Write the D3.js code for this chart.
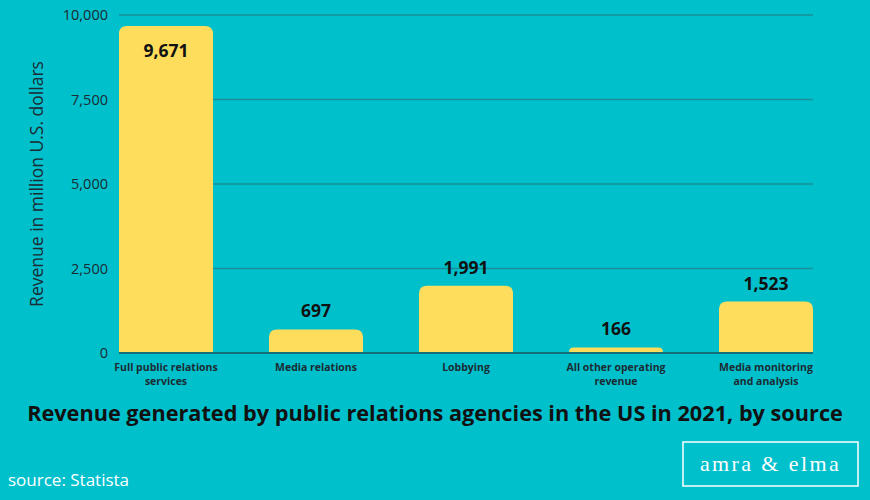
<!DOCTYPE html>
<html>
<head>
<meta charset="utf-8">
<script src="https://cdn.jsdelivr.net/npm/d3@7"></script>
<style>
  body { margin: 0; background: #00c0cc; }
  svg { display: block; }
</style>
</head>
<body>
<div id="chart"></div>
<script>
// Dữ liệu
const categories = [
    ["Full public relations", "services"],
    ["Media relations"],
    ["Lobbying"],
    ["All other operating", "revenue"],
    ["Media monitoring", "and analysis"]
];
const values = [9671, 697, 1991, 166, 1523];
const yTicks = [0, 2500, 5000, 7500, 10000];

const width = 870;
const height = 500;
const margin = { top: 15, right: 57, bottom: 147, left: 119 };

const svg = d3.select("#chart")
    .append("svg")
    .attr("width", width)
    .attr("height", height);

svg.append("rect")
    .attr("width", width)
    .attr("height", height)
    .attr("fill", "#00c0cc");

const x = d3.scaleBand()
    .domain(d3.range(values.length))
    .range([margin.left, width - margin.right])
    .paddingInner(0.3733)
    .paddingOuter(0);

const y = d3.scaleLinear()
    .domain([0, 10000])
    .range([height - margin.bottom, margin.top]);

// Đường lưới
svg.append("g")
    .selectAll("line")
    .data(yTicks)
    .enter()
    .append("line")
    .attr("x1", margin.left)
    .attr("x2", width - margin.right)
    .attr("y1", d => y(d))
    .attr("y2", d => y(d))
    .attr("stroke", d => d === 0 ? "#13707a" : "#1a8f98")
    .attr("stroke-width", d => d === 0 ? 2 : 1.5);

// Nhãn trục Y
const yAxis = svg.append("g")
    .attr("transform", `translate(${margin.left - 11},0)`)
    .call(d3.axisLeft(y).tickValues(yTicks).tickSize(0).tickFormat(d3.format(",")));
yAxis.select(".domain").remove();
yAxis.selectAll("text")
    .attr("x", 0)
    .style("font-family", "'Open Sans', sans-serif")
    .style("font-size", "14.5px")
    .style("fill", "#1c2b33");

svg.append("text")
    .attr("transform", `translate(43,${(y(0) + y(10000)) / 2}) rotate(-90)`)
    .attr("text-anchor", "middle")
    .style("font-family", "'Open Sans', sans-serif")
    .style("font-size", "17.5px")
    .style("fill", "#1c2b33")
    .text("Revenue in million U.S. dollars");

// Cột bo góc trên
const r = 8;
function barPath(x0, y0, w, h) {
    const rr = Math.min(r, h);
    return `M${x0},${y0 + h}V${y0 + rr}Q${x0},${y0} ${x0 + rr},${y0}` +
        `H${x0 + w - rr}Q${x0 + w},${y0} ${x0 + w},${y0 + rr}V${y0 + h}Z`;
}

svg.append("g")
    .selectAll("path")
    .data(values)
    .enter()
    .append("path")
    .attr("d", (d, i) => barPath(x(i), y(d), x.bandwidth(), y(0) - y(d) - 1))
    .attr("fill", "#ffdd5c");

// Nhãn giá trị
svg.append("g")
    .selectAll("text")
    .data(values)
    .enter()
    .append("text")
    .attr("x", (d, i) => x(i) + x.bandwidth() / 2)
    .attr("y", d => y(d) - 22 < margin.top ? y(d) + 31 : y(d) - 12)
    .attr("text-anchor", "middle")
    .style("font-family", "'Open Sans', sans-serif")
    .style("font-weight", "bold")
    .style("font-size", "17.5px")
    .style("fill", "#111")
    .text(d => d3.format(",")(d));

// Nhãn danh mục
const catG = svg.append("g")
    .selectAll("text")
    .data(categories)
    .enter()
    .append("text")
    .attr("text-anchor", "middle")
    .style("font-family", "'Open Sans', sans-serif")
    .style("font-weight", "bold")
    .style("font-size", "10.5px")
    .style("fill", "#1c2b33");
catG.each(function (d, i) {
    const t = d3.select(this);
    d.forEach((line, j) => {
        t.append("tspan")
            .attr("x", x(i) + x.bandwidth() / 2)
            .attr("y", y(0) + 18 + j * 14)
            .text(line);
    });
});

// Tiêu đề
svg.append("text")
    .attr("x", width / 2)
    .attr("y", 421)
    .attr("text-anchor", "middle")
    .style("font-family", "'Open Sans', sans-serif")
    .style("font-weight", "bold")
    .style("font-size", "21.7px")
    .style("fill", "#111")
    .text("Revenue generated by public relations agencies in the US in 2021, by source");

// Nguồn
svg.append("text")
    .attr("x", 8)
    .attr("y", 486)
    .style("font-family", "'Open Sans', sans-serif")
    .style("font-size", "17px")
    .style("fill", "#ffffff")
    .text("source: Statista");

// Logo
svg.append("rect")
    .attr("x", 683)
    .attr("y", 442)
    .attr("width", 175)
    .attr("height", 44)
    .attr("fill", "none")
    .attr("stroke", "#ffffff")
    .attr("stroke-width", 1.5);

svg.append("text")
    .attr("x", 770.5)
    .attr("y", 471)
    .attr("text-anchor", "middle")
    .style("font-family", "'Liberation Serif', serif")
    .style("font-size", "22px")
    .style("letter-spacing", "2.4px")
    .style("fill", "#ffffff")
    .text("amra & elma");
</script>
</body>
</html>
